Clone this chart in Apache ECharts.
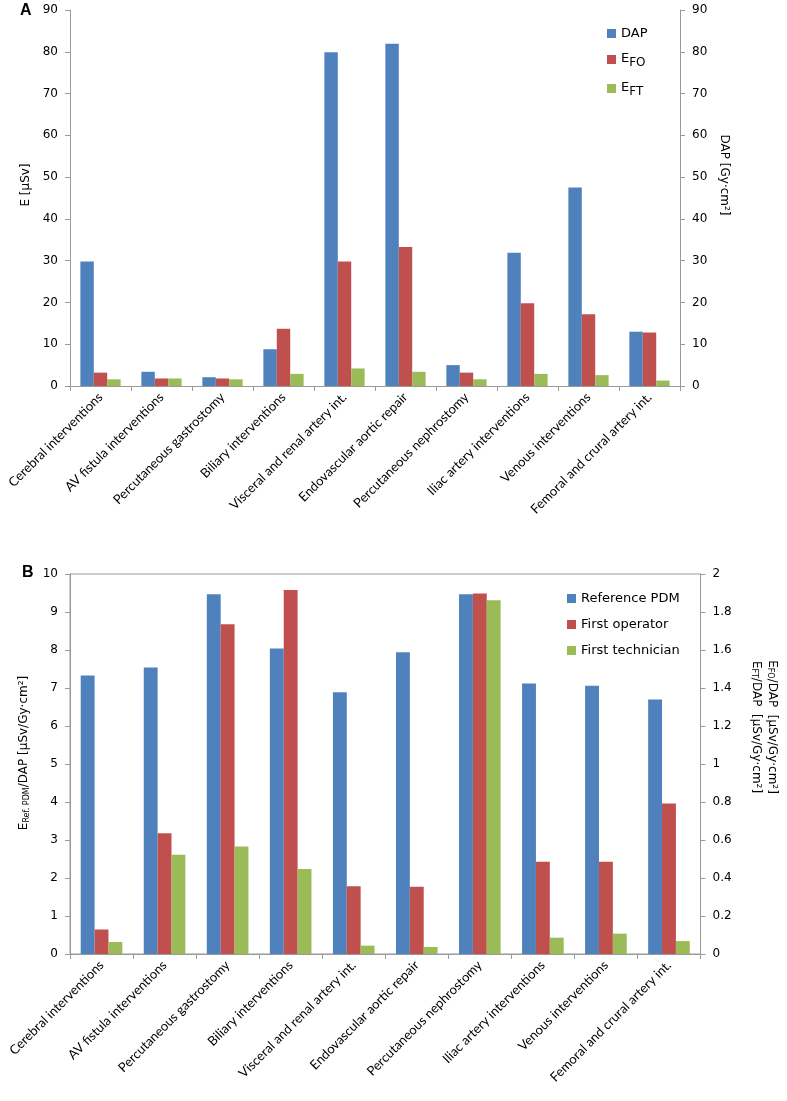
<!DOCTYPE html>
<html>
<head>
<meta charset="utf-8">
<script src="https://cdn.jsdelivr.net/npm/echarts@6/dist/echarts.min.js"></script>
<style>
html,body{margin:0;padding:0;background:#fff;}
#chart{width:787px;height:1101px;}
</style>
</head>
<body>
<div id="chart"></div>
<script>
const categories = [
  'Cerebral interventions', 'AV fistula interventions', 'Percutaneous gastrostomy',
  'Biliary interventions', 'Visceral and renal artery int.', 'Endovascular aortic repair',
  'Percutaneous nephrostomy', 'Iliac artery interventions', 'Venous interventions',
  'Femoral and crural artery int.'
];
// Panel A
const dapA = [29.8, 3.4, 2.1, 8.8, 79.9, 81.9, 5.0, 31.9, 47.5, 13.0];
const efoA = [3.2, 1.8, 1.8, 13.7, 29.8, 33.3, 3.2, 19.8, 17.2, 12.8];
const eftA = [1.6, 1.8, 1.6, 2.9, 4.2, 3.4, 1.6, 2.9, 2.6, 1.3];
// Panel B
const refPdmB = [7.33, 7.54, 9.47, 8.04, 6.89, 7.94, 9.47, 7.12, 7.06, 6.70];
const foB = [0.129, 0.636, 1.736, 1.916, 0.356, 0.354, 1.898, 0.486, 0.486, 0.792];
const ftB = [0.063, 0.522, 0.566, 0.448, 0.044, 0.037, 1.862, 0.086, 0.107, 0.068];

const BLUE = '#4F81BD', RED = '#C0504D', GREEN = '#9BBB59';
const AXIS = '#9a9a9a';
const NUMFONT = 'DejaVu Sans';
const CATFONT = 'Lato';

const subRich = {
  m: { fontFamily: NUMFONT, fontSize: 13, color: '#000', verticalAlign: 'top', lineHeight: 15 },
  s: { fontFamily: NUMFONT, fontSize: 12, color: '#000', lineHeight: 15, padding: [7, 0, 0, 0] }
};
const nameRich = {
  n: { fontFamily: NUMFONT, fontSize: 12, color: '#000', lineHeight: 16 },
  s: { fontFamily: NUMFONT, fontSize: 8, color: '#000', lineHeight: 16, padding: [5, 0, 0, 0] }
};

function valueAxis(grid, pos, min, max, interval, extra) {
  return Object.assign({
    type: 'value', gridIndex: grid, position: pos, min: min, max: max, interval: interval,
    axisLine: { show: true, lineStyle: { color: AXIS, width: 1 } },
    axisTick: { show: true, length: 5, lineStyle: { color: AXIS } },
    splitLine: { show: false },
    axisLabel: { fontFamily: NUMFONT, fontSize: 12, color: '#000', margin: 12 },
    nameLocation: 'middle'
  }, extra);
}
function catAxis(grid) {
  return {
    type: 'category', gridIndex: grid, data: categories,
    axisLine: { show: true, lineStyle: { color: AXIS, width: 1 } },
    axisTick: { show: true, length: 5, lineStyle: { color: AXIS } },
    axisLabel: { interval: 0, rotate: 45, fontFamily: CATFONT, fontSize: 13, color: '#000', margin: 9 }
  };
}
function bar(name, x, y, data, color) {
  return {
    name: name, type: 'bar', xAxisIndex: x, yAxisIndex: y, data: data,
    itemStyle: { color: color }, barGap: '0%', barCategoryGap: '34%', animation: false
  };
}

const chart = echarts.init(document.getElementById('chart'), null, { renderer: 'canvas' });
chart.setOption({
  animation: false,
  backgroundColor: '#fff',
  title: [
    { text: 'A', left: 15, top: -2, textStyle: { fontFamily: 'Liberation Sans', fontWeight: 'bold', fontSize: 16, color: '#000' } },
    { text: 'B', left: 17, top: 560, textStyle: { fontFamily: 'Liberation Sans', fontWeight: 'bold', fontSize: 16, color: '#000' } }
  ],
  grid: [
    { left: 70, width: 610, top: 10, height: 376, show: false },
    { left: 70, width: 633, top: 574, height: 380, show: true, borderColor: AXIS, borderWidth: 1, backgroundColor: 'transparent' }
  ],
  legend: [
    {
      data: ['DAP', 'EFO', 'EFT'], orient: 'vertical', left: 602, top: 22,
      itemWidth: 9, itemHeight: 9, itemGap: 10, icon: 'rect',
      textStyle: { fontFamily: NUMFONT, fontSize: 13, color: '#000', rich: subRich },
      formatter: function (n) {
        if (n === 'EFO') return '{m|E}{s|FO}';
        if (n === 'EFT') return '{m|E}{s|FT}';
        return n;
      }
    },
    {
      data: ['Reference PDM', 'First operator', 'First technician'], orient: 'vertical', left: 562, top: 587,
      itemWidth: 9, itemHeight: 9, itemGap: 13, icon: 'rect',
      textStyle: { fontFamily: NUMFONT, fontSize: 13, color: '#000' }
    }
  ],
  xAxis: [catAxis(0), catAxis(1)],
  yAxis: [
    valueAxis(0, 'left', 0, 90, 10, {
      name: 'E [µSv]', nameRotate: 90, nameGap: 38,
      nameTextStyle: { fontFamily: NUMFONT, fontSize: 12, color: '#000', padding: [0, 0, 0, 26] }
    }),
    valueAxis(0, 'right', 0, 90, 10, {
      name: 'DAP [Gy·cm²]', nameRotate: -90, nameGap: 38,
      nameTextStyle: { fontFamily: NUMFONT, fontSize: 12, color: '#000', padding: [0, 46, 0, 0] }
    }),
    valueAxis(1, 'left', 0, 10, 1, {
      name: '{n|E}{s|Ref. PDM}{n|/DAP [µSv/Gy·cm²]}', nameRotate: 90, nameGap: 38,
      nameTextStyle: { fontFamily: NUMFONT, fontSize: 12, color: '#000', padding: [0, 0, 0, 22], rich: nameRich }
    }),
    valueAxis(1, 'right', 0, 2, 0.2, {
      name: '{n|E}{s|FO}{n|/DAP  [µSv/Gy·cm²]}\n{n|E}{s|FT}{n|/DAP  [µSv/Gy·cm²]}', nameRotate: -90, nameGap: 48,
      nameTextStyle: { fontFamily: NUMFONT, fontSize: 12, color: '#000', padding: [0, 74, 0, 0], rich: nameRich }
    })
  ],
  series: [
    bar('DAP', 0, 1, dapA, BLUE),
    bar('EFO', 0, 0, efoA, RED),
    bar('EFT', 0, 0, eftA, GREEN),
    bar('Reference PDM', 1, 2, refPdmB, BLUE),
    bar('First operator', 1, 3, foB, RED),
    bar('First technician', 1, 3, ftB, GREEN)
  ]
});
</script>
</body>
</html>
